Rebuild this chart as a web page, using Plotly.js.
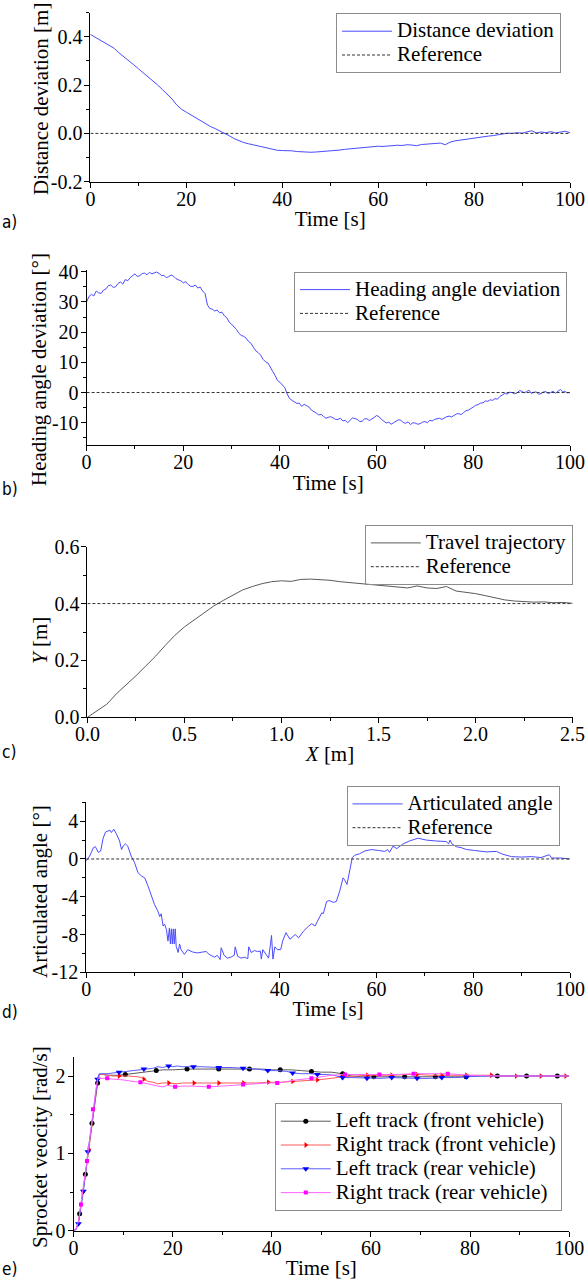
<!DOCTYPE html>
<html><head><meta charset="utf-8">
<script src="https://cdn.plot.ly/plotly-3.0.1.min.js"></script>
<style>html,body{margin:0;padding:0;background:#fff}#chart{width:588px;height:1281px}</style>
</head><body><div id="chart"></div>
<script>
// ---------- shared time axis (s) ----------
const timeSec = [0,1,2,3,4,5,6,7,8,9,10,11,12,13,14,15,16,17,18,19,20,21,22,23,24,25,26,27,28,29,30,31,32,33,34,35,36,37,38,39,40,41,42,43,44,45,46,47,48,49,50,51,52,53,54,55,56,57,58,59,60,61,62,63,64,65,66,67,68,69,70,71,72,73,74,75,76,77,78,79,80,81,82,83,84,85,86,87,88,89,90,91,92,93,94,95,96,97,98,99,100];

// ---------- a) distance deviation [m] ----------
const distDev = [0.410,0.398,0.386,0.375,0.362,0.352,0.333,0.318,0.302,0.285,0.268,0.252,0.236,0.218,0.201,0.182,0.162,0.143,0.118,0.100,
 0.088,0.076,0.062,0.050,0.038,0.029,0.020,0.011,0.000,-0.010,-0.022,-0.031,-0.038,-0.043,-0.048,-0.053,-0.058,-0.062,-0.067,-0.070,
 -0.071,-0.070,-0.072,-0.075,-0.077,-0.079,-0.078,-0.077,-0.076,-0.075,-0.073,-0.071,-0.069,-0.066,-0.064,-0.062,-0.060,-0.058,-0.057,-0.055,
 -0.053,-0.054,-0.052,-0.050,-0.049,-0.050,-0.047,-0.048,-0.051,-0.046,-0.044,-0.042,-0.043,-0.040,-0.047,-0.036,-0.031,-0.028,-0.024,-0.021,
 -0.019,-0.016,-0.013,-0.011,-0.009,-0.006,-0.003,0.001,0.000,0.003,0.001,0.005,0.011,0.002,0.006,0.003,0.007,0.002,0.006,0.009,0.003];

// ---------- b) heading angle deviation [deg], 0.5 s samples ----------
const headT = [0,0.5,1,1.5,2,2.5,3,3.5,4,4.5,5,5.5,6,6.5,7,7.5,8,8.5,9,9.5,10,10.5,11,11.5,12,12.5,13,13.5,14,14.5,15,15.5,16,16.5,17,17.5,18,18.5,19,19.5,
 20,20.5,21,21.5,22,22.5,23,23.5,24,24.5,25,25.5,26,26.5,27,27.5,28,28.5,29,29.5,30,30.5,31,31.5,32,32.5,33,33.5,34,34.5,35,35.5,36,36.5,37,37.5,38,38.5,39,39.5,
 40,40.5,41,41.5,42,42.5,43,43.5,44,44.5,45,45.5,46,46.5,47,47.5,48,48.5,49,49.5,50,50.5,51,51.5,52,52.5,53,53.5,54,54.5,55,55.5,56,56.5,57,57.5,58,58.5,59,59.5,
 60,60.5,61,61.5,62,62.5,63,63.5,64,64.5,65,65.5,66,66.5,67,67.5,68,68.5,69,69.5,70,70.5,71,71.5,72,72.5,73,73.5,74,74.5,75,75.5,76,76.5,77,77.5,78,78.5,79,79.5,
 80,80.5,81,81.5,82,82.5,83,83.5,84,84.5,85,85.5,86,86.5,87,87.5,88,88.5,89,89.5,90,90.5,91,91.5,92,92.5,93,93.5,94,94.5,95,95.5,96,96.5,97,97.5,98,98.5,99,99.5,100];
const headDev = [30.0,31.8,32.5,32.0,33.6,33.0,32.8,33.9,34.3,35.4,35.6,34.8,35.0,36.1,36.6,35.9,37.4,37.0,38.0,38.6,
 39.3,38.4,38.7,39.4,39.5,39.0,39.8,39.3,39.6,39.9,39.4,38.7,38.8,38.0,38.4,38.9,38.5,37.7,37.3,37.0,
 36.3,36.7,35.8,35.2,35.1,35.6,34.6,34.9,33.6,32.8,29.0,27.8,27.6,27.0,27.3,26.4,26.6,25.4,24.8,23.3,
 22.6,21.9,20.9,19.6,18.9,18.6,18.0,16.9,16.3,15.0,13.8,13.2,12.4,11.0,10.2,9.8,8.6,7.0,5.6,4.0,
 3.4,2.3,1.6,-0.5,-2.0,-2.6,-3.0,-3.6,-3.5,-4.6,-3.9,-4.4,-4.8,-5.8,-6.2,-6.8,-7.4,-7.2,-7.9,-8.5,
 -8.2,-8.0,-8.4,-8.9,-8.9,-8.5,-9.4,-9.2,-10.0,-9.3,-8.4,-8.6,-8.9,-9.6,-9.5,-8.7,-8.7,-9.3,-8.6,-8.2,
 -7.6,-8.0,-8.9,-9.6,-10.1,-9.8,-10.5,-10.0,-9.4,-9.0,-9.2,-9.9,-10.2,-9.7,-10.6,-10.0,-10.1,-10.5,-10.3,-9.8,
 -9.6,-10.0,-9.2,-9.4,-8.9,-8.6,-8.5,-8.9,-8.3,-8.0,-7.8,-8.1,-7.6,-7.1,-7.0,-7.3,-6.6,-6.0,-5.8,-5.4,
 -4.8,-4.2,-4.0,-3.5,-3.4,-2.8,-2.9,-2.4,-2.6,-2.0,-2.2,-1.3,-0.8,-0.3,-0.5,0.1,0.0,-0.4,-0.2,0.6,
 0.5,-0.1,0.3,0.8,-0.3,0.1,0.2,-0.5,-0.4,0.2,0.3,-0.3,0.0,0.4,-0.2,0.3,1.0,0.2,0.3,-0.1,0.0];

// ---------- c) travel trajectory ----------
const trajX = [0,0.05,0.10,0.15,0.20,0.25,0.30,0.35,0.40,0.45,0.50,0.55,0.60,0.65,0.70,0.75,0.80,0.85,0.90,0.95,1.00,1.05,1.10,1.15,1.20,1.25,1.30,1.35,1.40,1.45,1.50,1.55,1.60,1.65,1.70,1.75,1.80,1.85,1.90,1.95,2.00,2.05,2.10,2.15,2.20,2.25,2.30,2.35,2.40,2.45,2.50];
const trajY = [0.000,0.023,0.046,0.083,0.113,0.146,0.180,0.214,0.252,0.288,0.318,0.343,0.368,0.391,0.411,0.431,0.448,0.460,0.470,0.477,0.480,0.478,0.485,0.486,0.484,0.482,0.477,0.474,0.470,0.468,0.464,0.460,0.458,0.455,0.462,0.455,0.453,0.460,0.444,0.440,0.435,0.428,0.420,0.413,0.409,0.407,0.405,0.406,0.403,0.404,0.401];

// ---------- d) articulated angle [deg] ----------
const artT = [0.0,0.7,1.5,1.9,2.5,3.0,3.5,4.0,4.9,5.2,5.7,6.2,6.9,7.3,7.7,8.1,8.6,9.3,10.0,10.7,11.4,12.1,12.8,13.5,14.1,14.8,15.2,15.5,15.9,16.2,16.6,16.9,17.2,17.4,17.6,17.8,18.0,18.2,18.4,18.6,19.0,19.3,19.6,20.3,21.0,22.0,23.0,24.1,24.8,25.4,26.5,27.1,27.7,27.9,28.5,29.2,29.9,30.6,30.8,31.3,32.0,32.7,33.4,33.6,34.1,34.8,35.4,36.0,36.2,36.5,37.2,37.7,38.1,38.3,38.6,39.0,39.5,40.2,40.6,41.3,42.1,43.2,43.9,44.9,46.0,46.6,47.3,48.0,48.7,49.0,49.7,50.2,51.1,51.7,52.4,53.1,53.4,53.9,54.4,55.0,55.5,56.5,57.6,59.0,60.4,61.7,62.3,62.7,63.4,64.2,65.5,66.8,68.6,70.3,72.4,74.4,74.9,75.2,75.6,76.5,77.5,78.6,80.3,82.7,84.8,86.1,87.9,90,92,94,95.7,96.2,98,100];
const artV = [-0.2,0.3,1.2,1.3,0.7,0.85,2.2,2.85,3.05,2.8,3.15,2.7,1.9,1.0,1.4,1.6,1.35,0.3,-0.4,-1.45,-1.8,-2.0,-2.9,-3.9,-4.8,-5.5,-6.1,-5.8,-7.1,-6.9,-7.5,-8.7,-7.3,-9.0,-7.4,-9.0,-7.4,-9.0,-7.4,-9.25,-9.9,-9.0,-9.6,-10.1,-9.6,-9.85,-9.95,-9.85,-9.8,-10.1,-10.4,-10.2,-10.65,-9.4,-10.2,-10.5,-10.4,-10.2,-9.3,-10.3,-10.5,-10.4,-10.55,-9.3,-9.9,-9.7,-9.8,-9.75,-10.6,-9.6,-10.1,-10.5,-9.0,-8.1,-10.6,-9.3,-9.6,-9.6,-8.7,-7.8,-8.5,-8.0,-8.35,-7.65,-7.1,-6.85,-7.1,-6.4,-5.7,-5.8,-4.5,-4.4,-4.6,-4.5,-3.4,-2.0,-2.2,-2.7,-1.4,0.14,0.4,0.55,0.85,1.0,0.9,0.8,1.0,0.7,1.35,1.1,1.6,1.9,2.2,2.0,1.9,1.85,1.6,2.0,1.6,1.3,1.2,1.0,0.9,0.75,0.8,0.5,0.25,0.2,0.25,0.15,0.45,0.1,0.1,0.0];

// ---------- reference lines ----------
const refTime = [0,100];
const refZero = [0,0];
const refTrajX = [0,2.5];
const refTrajY = [0.4,0.4];

// ---------- e) sprocket velocity [rad/s] ----------
const lfT = [0,0.5,1.0,1.24,1.5,2.0,2.39,2.5,3.0,3.5,3.73,4.0,4.5,4.87,5.2,6,7,8,9,10.45,12,14,16.7,18,20,22.9,25,27,29.3,31,33,35.5,38,40,41.7,44,46,48,50,52,53,54.3,56,58,60.6,63,66.8,70,73.0,76,79.2,82,85.5,88,91.4,95,97.6,100];
const lfV = [0,0.02,0.12,0.22,0.31,0.52,0.73,0.77,1.02,1.27,1.39,1.53,1.76,1.91,2.02,2.02,2.01,2.01,2.01,2.02,2.03,2.05,2.07,2.08,2.08,2.09,2.09,2.09,2.09,2.09,2.09,2.09,2.09,2.08,2.08,2.08,2.07,2.06,2.05,2.05,2.04,2.03,2.0,1.99,1.99,1.99,1.99,1.99,1.99,1.99,1.99,2.0,2.0,2.0,2.0,2.0,2.0,2.0];
const lfMarks = [1.24,2.39,3.73,4.87,10.45,16.7,22.9,29.3,35.5,41.7,48,54.3,60.6,66.8,73.0,79.2,85.5,91.4,97.6];

const rfT = [0,0.5,1.0,1.5,1.9,2.5,3.1,3.5,4.0,4.5,5.0,5.2,6,7,8,9.2,11,13,13.7,14.2,14.6,15,16,17,18,19.2,21,22,24.3,27,29.3,32,34.3,37,39.3,42,44.2,47,49.2,52,54.3,57,59.3,62,64.2,67,69.3,72,74.3,77,79.3,82,84.3,87,89.3,92,94.3,97,99.3,100];
const rfV = [0,0.02,0.11,0.30,0.50,0.77,1.05,1.28,1.53,1.77,2.0,2.02,2.02,2.01,2.0,2.0,2.0,1.99,1.98,1.96,1.95,1.93,1.92,1.90,1.91,1.91,1.90,1.91,1.91,1.91,1.91,1.91,1.91,1.91,1.92,1.92,1.93,1.94,1.95,1.97,1.99,2.0,2.01,2.01,2.01,2.02,2.02,2.01,2.01,2.01,2.01,2.01,2.01,2.0,2.0,2.0,2.0,2.0,2.0,2.0];
const rfMarks = [1.9,3.1,9.2,14.2,19.2,24.3,29.3,34.3,39.3,44.2,49.2,54.3,59.3,64.2,69.3,74.3,79.3,84.3,89.3,94.3,99.3];

const lrT = [0,0.5,1.0,1.5,2.0,2.5,2.9,3.5,4.0,4.5,4.87,5.2,6,7,8,9.2,10,11,12,13,14.2,15,16,17,18,19.2,20,21,22,24.2,26,29.3,32,34.2,37,39.2,41,43,44.2,46,48,49.2,51,52.5,54.3,56,59.2,62,64.2,67,69.3,72,74.3,77,79.3,82,85,90,95,100];
const lrV = [0,0.01,0.09,0.28,0.51,0.77,1.02,1.29,1.53,1.76,1.96,2.03,2.03,2.03,2.04,2.05,2.05,2.06,2.07,2.08,2.09,2.10,2.10,2.12,2.11,2.13,2.12,2.13,2.12,2.12,2.12,2.11,2.11,2.10,2.09,2.07,2.07,2.06,2.04,2.03,2.03,2.02,2.02,2.01,1.98,1.98,1.97,1.97,1.98,1.97,1.97,1.97,1.98,1.98,1.99,2.0,2.0,2.0,2.0,2.0];
const lrMarks = [1.0,2.0,2.9,4.87,9.2,14.2,19.2,24.2,29.3,34.2,39.2,44.2,49.2,54.3,59.2,64.2,69.3,74.3,79.3];

const rrT = [0,0.5,1.0,1.51,2.0,2.72,3.0,3.5,3.93,4.5,4.9,5.3,6.8,8,10,12,13.5,15,16,17,18,19,20.5,22,24,27.3,30,32,34.2,37,39,41.1,43,45,48,50,52,54.8,58,61.7,65,68.6,72,75.5,80,85,90,95,100];
const rrV = [0,0.02,0.12,0.34,0.56,0.90,1.05,1.33,1.57,1.82,1.97,1.97,1.97,1.96,1.95,1.93,1.92,1.90,1.88,1.87,1.86,1.88,1.86,1.87,1.87,1.86,1.87,1.88,1.89,1.90,1.91,1.91,1.93,1.95,1.97,1.99,2.01,2.02,2.02,2.02,2.02,2.03,2.03,2.03,2.01,2.0,2.0,2.0,2.0];
const rrMarks = [1.51,2.72,3.93,6.8,13.5,20.5,27.3,34.2,41.1,48,54.8,61.7,68.6,75.5];

// ---------- tick labels ----------
const ticksA = [-0.2,0,0.2,0.4], ticksAText = ['-0.2','0.0','0.2','0.4'];
const ticksB = [-10,0,10,20,30,40], ticksBText = ['-10','0','10','20','30','40'];
const ticksCX = [0,0.5,1,1.5,2,2.5], ticksCXText = ['0.0','0.5','1.0','1.5','2.0','2.5'];
const ticksCY = [0,0.2,0.4,0.6], ticksCYText = ['0.0','0.2','0.4','0.6'];
const ticksD = [-12,-8,-4,0,4], ticksDText = ['-12','-8','-4','0','4'];
const ticksE = [0,1,2], ticksEText = ['0','1','2'];

// ---------- layout helpers ----------
const W = 588, H = 1281;
const px = v => v / W;
const py = v => 1 - v / H;
const serif = 'Liberation Serif, Times New Roman, serif';
const big = s => '<span style="font-size:21px">' + s + '</span>';

function minorTicks(dtick) {
  return {ticks: 'outside', ticklen: 3, tickwidth: 1, tickcolor: '#000', showgrid: false, tickmode: 'linear', tick0: 0, dtick: dtick};
}
function xAx(dom, range, extra) {
  return Object.assign({
    domain: [px(dom[0]), px(dom[1])], range: range, showline: true, linecolor: '#000', linewidth: 1,
    ticks: 'outside', ticklen: 5, tickwidth: 1, tickcolor: '#000', showgrid: false, zeroline: false,
    ticklabelstandoff: -6, tickfont: {size: 20, family: serif, color: '#000'}
  }, extra);
}
function yAx(dom, range, extra) {
  return Object.assign({
    domain: [py(dom[1]), py(dom[0])], range: range, showline: true, linecolor: '#000', linewidth: 1,
    ticks: 'outside', ticklen: 5, tickwidth: 1, tickcolor: '#000', showgrid: false, zeroline: false,
    ticklabelstandoff: -2, tickfont: {size: 20, family: serif, color: '#000'}
  }, extra);
}
function legendAt(left, top) {
  return {x: px(left), y: py(top), xanchor: 'left', yanchor: 'top', bgcolor: 'rgba(255,255,255,0)',
    bordercolor: '#8c8c8c', borderwidth: 1, font: {size: 16, family: serif, color: '#000'},
    itemwidth: 50, tracegroupgap: 0};
}
const titleFont = {size: 21, family: serif, color: '#000'};
const refLine = {color: '#333', width: 1, dash: '3px,2px'};
const blueLine = {color: 'rgb(75,75,255)', width: 1};

function markIdx(tArr, marks) {
  const out = [];
  tArr.forEach((t, i) => { if (marks.indexOf(t) >= 0) out.push(i); });
  return out;
}
function sprocket(name, t, v, marks, lineColor, mColor, symbol, size) {
  return {
    x: t, y: v, name: big(name), type: 'scatter', mode: 'lines+markers', xaxis: 'x5', yaxis: 'y5', legend: 'legend5',
    line: {color: lineColor, width: 1}, marker: {color: mColor, symbol: symbol, size: size},
    selectedpoints: markIdx(t, marks), selected: {marker: {opacity: 1}}, unselected: {marker: {opacity: 0}}
  };
}

const traces = [
  {x: timeSec, y: distDev, name: big('Distance deviation'), type: 'scatter', mode: 'lines', line: blueLine, xaxis: 'x', yaxis: 'y', legend: 'legend'},
  {x: refTime, y: refZero, name: big('Reference'), type: 'scatter', mode: 'lines', line: refLine, xaxis: 'x', yaxis: 'y', legend: 'legend'},

  {x: headT, y: headDev, name: big('Heading angle deviation'), type: 'scatter', mode: 'lines', line: blueLine, xaxis: 'x2', yaxis: 'y2', legend: 'legend2'},
  {x: refTime, y: refZero, name: big('Reference'), type: 'scatter', mode: 'lines', line: refLine, xaxis: 'x2', yaxis: 'y2', legend: 'legend2'},

  {x: trajX, y: trajY, name: big('Travel trajectory'), type: 'scatter', mode: 'lines', line: {color: 'rgb(90,90,90)', width: 1}, xaxis: 'x3', yaxis: 'y3', legend: 'legend3'},
  {x: refTrajX, y: refTrajY, name: big('Reference'), type: 'scatter', mode: 'lines', line: refLine, xaxis: 'x3', yaxis: 'y3', legend: 'legend3'},

  {x: artT, y: artV, name: big('Articulated angle'), type: 'scatter', mode: 'lines', line: blueLine, xaxis: 'x4', yaxis: 'y4', legend: 'legend4'},
  {x: refTime, y: refZero, name: big('Reference'), type: 'scatter', mode: 'lines', line: refLine, xaxis: 'x4', yaxis: 'y4', legend: 'legend4'},

  sprocket('Left track (front vehicle)', lfT, lfV, lfMarks, 'rgb(90,90,90)', '#000', 'circle', 5),
  sprocket('Right track (front vehicle)', rfT, rfV, rfMarks, 'rgb(255,90,90)', '#f00', 'triangle-right', 5),
  sprocket('Left track (rear vehicle)', lrT, lrV, lrMarks, 'rgb(90,90,255)', '#00f', 'triangle-down', 6),
  sprocket('Right track (rear vehicle)', rrT, rrV, rrMarks, 'rgb(255,100,255)', '#f0f', 'square', 4)
];

// y-axis titles: [text, centre x, centre y] in pixels
const yTitles = [
  ['Distance deviation [m]', 41, 99],
  ['Heading angle deviation [°]', 39, 370],
  ['<i>Y</i> [m]', 40, 641],
  ['Articulated angle [°]', 40, 892],
  ['Sprocket veocity [rad/s]', 40, 1147]
];
const panelTags = [['a)', 222], ['b)', 489], ['c)', 752], ['d)', 1012], ['e)', 1269]];

const layout = {
  width: W, height: H, margin: {l: 0, r: 0, t: 0, b: 0}, paper_bgcolor: '#fff', plot_bgcolor: '#fff',
  font: {family: serif, size: 20, color: '#000'}, showlegend: true, hovermode: false,
  xaxis: xAx([90.4, 570], [0, 100], {anchor: 'y', dtick: 20, tick0: 0, minor: minorTicks(10), title: {text: 'Time [s]', font: titleFont, standoff: 2}}),
  yaxis: yAx([12.7, 181.7], [-0.2, 0.5], {anchor: 'x', tickmode: 'array', tickvals: ticksA, ticktext: ticksAText, minor: minorTicks(0.1)}),

  xaxis2: xAx([86.6, 570], [0, 100], {anchor: 'y2', dtick: 20, tick0: 0, minor: minorTicks(10), title: {text: 'Time [s]', font: titleFont, standoff: 2}}),
  yaxis2: yAx([270.2, 445.4], [-17.5, 40.5], {anchor: 'x2', tickmode: 'array', tickvals: ticksB, ticktext: ticksBText, minor: minorTicks(5)}),

  xaxis3: xAx([87.4, 572.6], [0, 2.5], {anchor: 'y3', tickmode: 'array', tickvals: ticksCX, ticktext: ticksCXText, minor: minorTicks(0.25), title: {text: '<i>X</i> [m]', font: titleFont, standoff: 2}}),
  yaxis3: yAx([546.7, 717.3], [0, 0.6], {anchor: 'x3', tickmode: 'array', tickvals: ticksCY, ticktext: ticksCYText, minor: minorTicks(0.1)}),

  xaxis4: xAx([86.2, 570], [0, 100], {anchor: 'y4', dtick: 20, tick0: 0, minor: minorTicks(10), title: {text: 'Time [s]', font: titleFont, standoff: 2}}),
  yaxis4: yAx([802.3, 972.3], [-12, 6], {anchor: 'x4', tickmode: 'array', tickvals: ticksD, ticktext: ticksDText, minor: minorTicks(2)}),

  xaxis5: xAx([73.5, 569.2], [0, 100], {anchor: 'y5', dtick: 20, tick0: 0, minor: minorTicks(10), title: {text: 'Time [s]', font: titleFont, standoff: 2}}),
  yaxis5: yAx([1056.7, 1230.7], [0, 2.25], {anchor: 'x5', tickmode: 'array', tickvals: ticksE, ticktext: ticksEText, minor: minorTicks(0.5)}),

  legend: legendAt(336, 13.3),
  legend2: legendAt(294, 271.7),
  legend3: legendAt(364.8, 525),
  legend4: legendAt(346.5, 786),
  legend5: legendAt(274.8, 1103.3),

  annotations: panelTags.map(p => ({
    text: p[0], xref: 'paper', yref: 'paper', x: 0, y: py(p[1]), xanchor: 'left', yanchor: 'middle', showarrow: false,
    font: {family: 'DejaVu Sans Condensed, Roboto, sans-serif', size: 17, color: '#000'}
  })).concat(yTitles.map(p => ({
    text: p[0], xref: 'paper', yref: 'paper', x: px(p[1]), y: py(p[2]), xanchor: 'center', yanchor: 'middle',
    textangle: -90, showarrow: false, font: titleFont
  })))
};

Plotly.newPlot('chart', traces, layout, {staticPlot: true, displayModeBar: false});
</script></body></html>
